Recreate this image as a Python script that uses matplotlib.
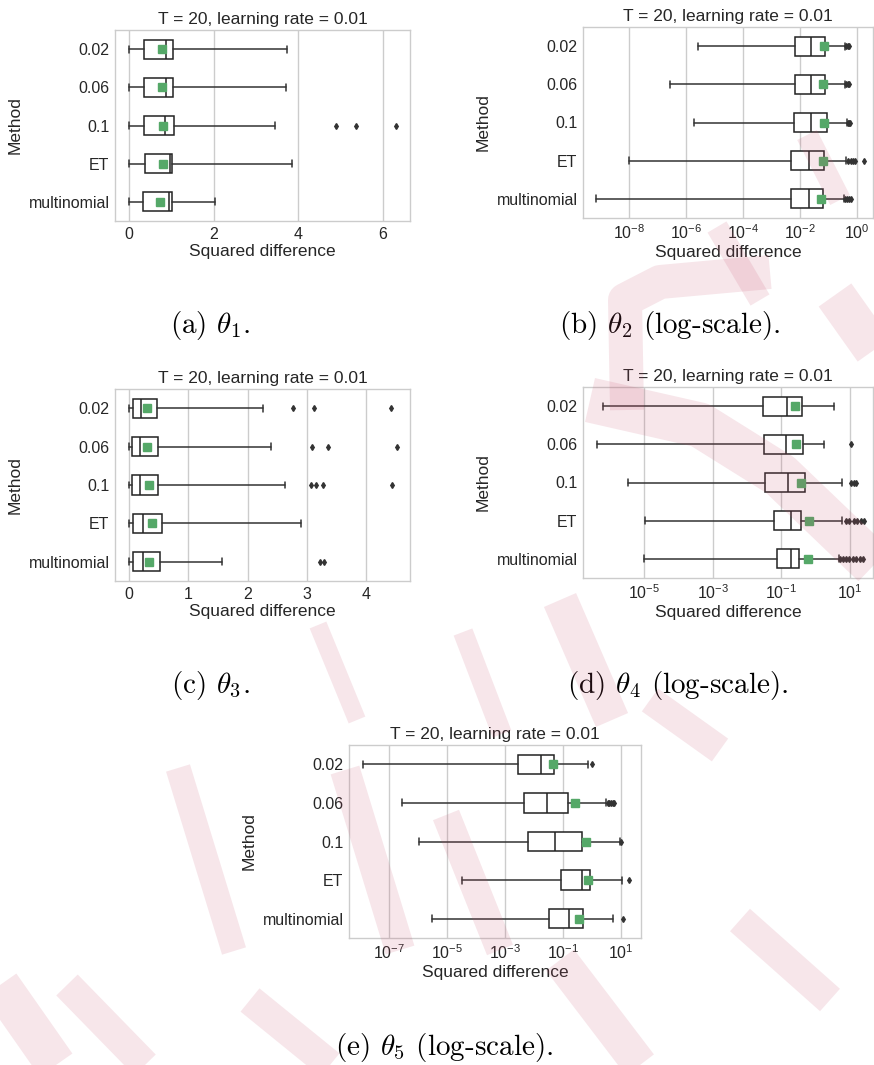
import matplotlib
matplotlib.use("Agg")
import matplotlib.pyplot as plt
from matplotlib.lines import Line2D
import seaborn as sns

sns.set_theme(style="whitegrid")
plt.rcParams['font.family'] = ['Liberation Sans', 'DejaVu Sans']
plt.rcParams['mathtext.fontset'] = 'custom'
plt.rcParams['mathtext.rm'] = 'Liberation Sans'
plt.rcParams['mathtext.it'] = 'Liberation Sans:italic'

methods = ['0.02', '0.06', '0.1', 'ET', 'multinomial']
title = 'T = 20, learning rate = 0.01'

# theta_1 (linear)
t1_lo = [0.0, 0.0, 0.0, 0.0, 0.0]
t1_q1 = [0.35, 0.35, 0.36, 0.39, 0.34]
t1_med = [0.87, 0.88, 0.84, 0.97, 0.95]
t1_q3 = [1.04, 1.04, 1.07, 1.02, 1.02]
t1_hi = [3.73, 3.72, 3.45, 3.86, 2.04]
t1_mean = [0.78, 0.79, 0.81, 0.80, 0.73]
t1_fliers = [[], [], [4.89, 5.36, 6.31], [], []]

# theta_2 (log)
t2_lo = [2.6e-6, 2.8e-7, 2.0e-6, 1.0e-8, 7.4e-10]
t2_q1 = [6.8e-3, 6.8e-3, 6.2e-3, 5.0e-3, 4.8e-3]
t2_med = [2.5e-2, 2.5e-2, 2.5e-2, 2.1e-2, 2.0e-2]
t2_q3 = [7.8e-2, 7.8e-2, 8.5e-2, 7.2e-2, 6.2e-2]
t2_hi = [0.37, 0.37, 0.45, 0.40, 0.35]
t2_mean = [6.8e-2, 6.5e-2, 7.1e-2, 6.3e-2, 5.4e-2]
t2_fliers = [[0.42, 0.47, 0.52], [0.42, 0.47, 0.50], [0.49, 0.53, 0.56],
             [0.49, 0.59, 0.72, 0.83, 1.74], [0.37, 0.44, 0.51, 0.60]]

# theta_3 (linear)
t3_lo = [0.0, 0.0, 0.0, 0.0, 0.0]
t3_q1 = [0.06, 0.05, 0.045, 0.07, 0.07]
t3_med = [0.20, 0.19, 0.18, 0.23, 0.23]
t3_q3 = [0.48, 0.49, 0.49, 0.56, 0.53]
t3_hi = [2.26, 2.39, 2.63, 2.90, 1.57]
t3_mean = [0.31, 0.31, 0.33, 0.39, 0.34]
t3_fliers = [[2.77, 3.11, 4.41], [3.08, 3.36, 4.51], [3.06, 3.16, 3.27, 4.43],
             [], [3.22, 3.28]]

# theta_4 (log)
t4_lo = [6.6e-7, 4.3e-7, 3.5e-6, 1.1e-5, 9.8e-6]
t4_q1 = [2.95e-2, 3.2e-2, 3.4e-2, 6.2e-2, 7.6e-2]
t4_med = [0.15, 0.14, 0.155, 0.195, 0.195]
t4_q3 = [0.40, 0.42, 0.49, 0.37, 0.33]
t4_hi = [3.3, 1.74, 5.6, 5.6, 4.7]
t4_mean = [0.25, 0.27, 0.38, 0.62, 0.59]
t4_fliers = [[], [10.2], [10.7, 12.6, 14.5],
             [7.8, 9.1, 12.6, 15.8, 20.0, 26.0],
             [5.1, 6.3, 7.6, 9.5, 12.0, 15.0, 19.0, 24.0]]

# theta_5 (log)
t5_lo = [1.2e-8, 2.8e-7, 1.07e-6, 3.2e-5, 3.0e-6]
t5_q1 = [2.9e-3, 4.7e-3, 6.3e-3, 8.3e-2, 3.4e-2]
t5_med = [1.7e-2, 2.9e-2, 5.2e-2, 0.45, 0.166]
t5_q3 = [4.8e-2, 0.155, 0.46, 0.89, 0.49]
t5_hi = [0.71, 3.1, 9.3, 10.7, 5.2]
t5_mean = [4.5e-2, 0.27, 0.63, 0.76, 0.36]
t5_fliers = [[1.05], [3.5, 4.0, 4.6, 5.3, 5.9], [10.0], [20.0], [11.5]]

W, H = 874, 1065

# rough pink watermark strokes of the source page (pixel coords, width)
wm_strokes = [
    ([(717, 227), (760, 300)], 22),
    ([(807, 135), (840, 200)], 22),
    ([(627, 410), (625, 300), (660, 282), (770, 272)], 34),
    ([(835, 295), (874, 350)], 40),
    ([(590, 400), (700, 425), (780, 475), (874, 565)], 45),
    ([(318, 625), (357, 720)], 18),
    ([(463, 632), (502, 734)], 20),
    ([(560, 600), (612, 720)], 35),
    ([(650, 700), (720, 750)], 28),
    ([(345, 770), (400, 950)], 30),
    ([(446, 815), (500, 950)], 28),
    ([(178, 768), (234, 951)], 25),
    ([(0, 985), (56, 1065)], 40),
    ([(67, 985), (145, 1065)], 30),
    ([(250, 1000), (330, 1065)], 30),
    ([(560, 960), (640, 1065)], 35),
    ([(740, 920), (830, 1000)], 30),
]


def px_axes(fig, left, top, right, bottom):
    return fig.add_axes([left / W, 1 - bottom / H, (right - left) / W, (bottom - top) / H])


def draw_panel(ax, lo, q1, med, q3, hi, mean, fliers, log, xlim, xticks):
    stats = []
    for i, m in enumerate(methods):
        stats.append(dict(label=m, whislo=lo[i], q1=q1[i], med=med[i], q3=q3[i],
                          whishi=hi[i], mean=mean[i], fliers=fliers[i]))
    ax.bxp(stats, positions=range(len(methods)), vert=False, widths=0.5,
           capwidths=0.18, showmeans=True, patch_artist=True,
           boxprops=dict(facecolor='white', edgecolor='#222222', linewidth=1.1),
           whiskerprops=dict(color='#333333', linewidth=1.1),
           capprops=dict(color='#333333', linewidth=1.1),
           medianprops=dict(color='#222222', linewidth=1.1),
           meanprops=dict(marker='s', markerfacecolor='#55a868',
                          markeredgecolor='#55a868', markersize=6),
           flierprops=dict(marker='d', markerfacecolor='#333333',
                           markeredgecolor='#333333', markersize=3))
    if log:
        ax.set_xscale('log')
        ax.xaxis.set_minor_locator(matplotlib.ticker.NullLocator())
    ax.set_xticks(xticks)
    ax.set_xlim(*xlim)
    ax.set_ylim(4.5, -0.5)
    ax.set_yticks(range(len(methods)))
    ax.set_yticklabels(methods)
    ax.grid(axis='y', visible=False)
    ax.grid(axis='x', color='#cccccc', linewidth=1.0)
    for s in ax.spines.values():
        s.set_color('#cccccc')
        s.set_linewidth(1.0)
    ax.tick_params(labelsize=11.5, pad=4, length=0)
    ax.set_title(title, fontsize=12.5, pad=4)
    ax.set_xlabel('Squared difference', fontsize=12.5, labelpad=2)
    ax.set_ylabel('Method', fontsize=12.5)


fig = plt.figure(figsize=(W / 100, H / 100), dpi=100)

ax_a = px_axes(fig, 115, 30, 410, 221)
draw_panel(ax_a, t1_lo, t1_q1, t1_med, t1_q3, t1_hi, t1_mean, t1_fliers,
           False, (-0.33, 6.64), [0, 2, 4, 6])

ax_b = px_axes(fig, 583, 27, 873, 218)
draw_panel(ax_b, t2_lo, t2_q1, t2_med, t2_q3, t2_hi, t2_mean, t2_fliers,
           True, (2.5e-10, 3.6), [1e-8, 1e-6, 1e-4, 1e-2, 1e0])

ax_c = px_axes(fig, 115, 389, 410, 581)
draw_panel(ax_c, t3_lo, t3_q1, t3_med, t3_q3, t3_hi, t3_mean, t3_fliers,
           False, (-0.236, 4.736), [0, 1, 2, 3, 4])

ax_d = px_axes(fig, 583, 387, 873, 578)
draw_panel(ax_d, t4_lo, t4_q1, t4_med, t4_q3, t4_hi, t4_mean, t4_fliers,
           True, (1.7e-7, 46), [1e-5, 1e-3, 1e-1, 1e1])

ax_e = px_axes(fig, 349, 745, 641, 938)
draw_panel(ax_e, t5_lo, t5_q1, t5_med, t5_q3, t5_hi, t5_mean, t5_fliers,
           True, (4.1e-9, 50), [1e-7, 1e-5, 1e-3, 1e-1, 1e1])

captions = [(r'(a) $\theta_1$.', 210, 325),
            (r'(b) $\theta_2$ (log-scale).', 670, 325),
            (r'(c) $\theta_3$.', 210, 686),
            (r'(d) $\theta_4$ (log-scale).', 678, 686),
            (r'(e) $\theta_5$ (log-scale).', 444, 1047)]
for txt, x, y in captions:
    fig.text(x / W, 1 - y / H, txt, ha='center', va='center', fontsize=21,
             family='cmr10', math_fontfamily='cm', color='black')

for pts, lw in wm_strokes:
    xs = [p[0] / W for p in pts]
    ys = [1 - p[1] / H for p in pts]
    fig.add_artist(Line2D(xs, ys, transform=fig.transFigure, color='#c8506e',
                          alpha=0.14, linewidth=lw * 0.72,
                          solid_capstyle='butt', solid_joinstyle='round',
                          zorder=10))

fig.savefig('out.png', dpi=100)
